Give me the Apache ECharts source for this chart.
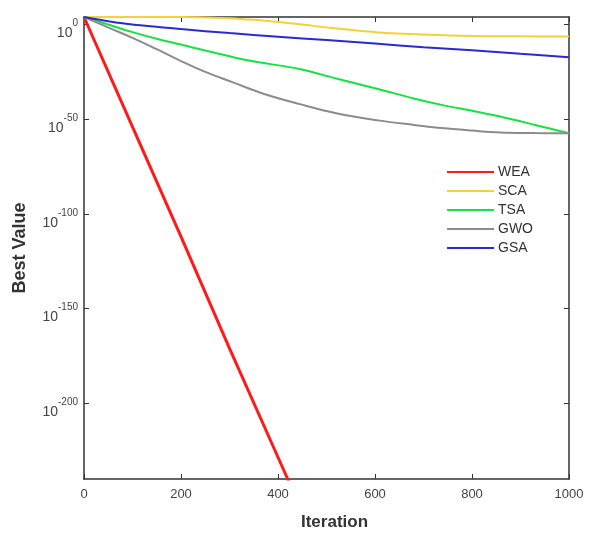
<!DOCTYPE html>
<html><head><meta charset="utf-8">
<script src="https://cdn.jsdelivr.net/npm/echarts@6/dist/echarts.min.js"></script>
<style>html,body{margin:0;padding:0;background:#fff}#c{width:590px;height:536px}</style>
</head><body><div id="c"></div>
<script>
// log10(best value) per iteration
const iterWEA = [0, 100, 200, 300, 420, 430];
const valWEA  = [4, -54, -112, -171, -240, -246];
const iterSCA = [0, 100, 200, 250, 300, 350, 400, 450, 500, 600, 700, 800, 900, 1000];
const valSCA  = [4, 4, 4, 3.8, 3.4, 2.5, 1.3, 0, -1.5, -4, -5.2, -6, -6.2, -6.3];
const iterTSA = [0, 50, 100, 150, 239, 340, 445, 520, 606, 680, 744, 800, 858, 930, 1000];
const valTSA  = [4, 0, -4, -7.5, -13, -19, -23.5, -28.5, -34, -39, -42.8, -45.5, -48.6, -53, -57.4];
const iterGWO = [0, 54, 100, 150, 198, 250, 307, 370, 445, 520, 606, 680, 744, 800, 858, 930, 1000];
const valGWO  = [4, -2, -7, -13, -19, -25, -30.5, -36.5, -42, -46.8, -50.6, -53, -54.8, -56, -57, -57.3, -57.4];
const iterGSA = [0, 50, 100, 200, 300, 400, 500, 600, 700, 800, 900, 1000];
const valGSA  = [4, 1.8, 0, -2.4, -4.5, -6.4, -8.2, -10, -12, -13.6, -15.4, -17.2];
const xTicks = [0, 200, 400, 600, 800, 1000];
const yTicks = [0, -50, -100, -150, -200];
const names = ['WEA', 'SCA', 'TSA', 'GWO', 'GSA'];

const zip = (a, b) => a.map((v, i) => [v, b[i]]);
const font = 'Liberation Sans, Arial, sans-serif';
const chart = echarts.init(document.getElementById('c'));
const mk = (name, xs, ys, color, w, sm) => ({
  name, type: 'line', data: zip(xs, ys), symbol: 'none', smooth: sm, clip: true,
  lineStyle: { color, width: w }, itemStyle: { color }
});
const frame = { show: true, onZero: false, lineStyle: { color: '#333', width: 1.5 } };
const tick = { inside: true, length: 5, lineStyle: { color: '#333' } };
chart.setOption({
  animation: false,
  backgroundColor: '#fff',
  grid: { left: 84, right: 21, top: 17, bottom: 51, show: false },
  legend: {
    data: names, orient: 'vertical', left: 441, top: 160, itemWidth: 47, itemHeight: 12, itemGap: 5,
    itemStyle: { opacity: 0 },
    textStyle: { fontFamily: font, fontSize: 14, color: '#333', padding: [0, 0, 0, -1] }
  },
  xAxis: [{
    type: 'value', min: xTicks[0], max: xTicks[xTicks.length - 1], interval: 200,
    name: 'Iteration', nameLocation: 'middle', nameGap: 35,
    nameTextStyle: { fontFamily: font, fontSize: 17, fontWeight: 'bold', color: '#333', padding: [0, 0, 0, 16] },
    axisLine: frame, axisTick: tick,
    axisLabel: { fontFamily: font, fontSize: 13, color: '#444', margin: 9, formatter: v => String(v) },
    splitLine: { show: false }
  }, {
    type: 'value', position: 'top', min: 0, max: 1000, interval: 200,
    axisLine: frame, axisTick: tick,
    axisLabel: { show: false }, splitLine: { show: false }
  }],
  yAxis: [{
    type: 'value', min: -240, max: 4,
    name: 'Best Value', nameLocation: 'middle', nameGap: 55, nameRotate: 90,
    nameTextStyle: { fontFamily: font, fontSize: 18, fontWeight: 'bold', color: '#333' },
    axisLine: frame, axisTick: Object.assign({ customValues: yTicks }, tick),
    axisLabel: {
      customValues: yTicks, margin: 6, fontFamily: font, color: '#444',
      formatter: v => '{b|10}{s|' + v + '}',
      rich: {
        b: { fontSize: 14, fontFamily: font, color: '#444', padding: [18, 0, 0, 0] },
        s: { fontSize: 10, fontFamily: font, color: '#444', padding: [0, 0, 2, 0] }
      }
    },
    splitLine: { show: false }
  }, {
    type: 'value', position: 'right', min: -240, max: 4,
    axisLine: frame, axisTick: Object.assign({ customValues: yTicks }, tick),
    axisLabel: { show: false }, splitLine: { show: false }
  }],
  series: [
    mk('WEA', iterWEA, valWEA, '#ff1a1a', 3, false),
    mk('SCA', iterSCA, valSCA, '#f2d13a', 2, 0.3),
    mk('TSA', iterTSA, valTSA, '#19e046', 2, 0.3),
    mk('GWO', iterGWO, valGWO, '#8c8c8c', 2, 0.4),
    mk('GSA', iterGSA, valGSA, '#2a2ad0', 2, 0.3)
  ]
});
</script></body></html>
